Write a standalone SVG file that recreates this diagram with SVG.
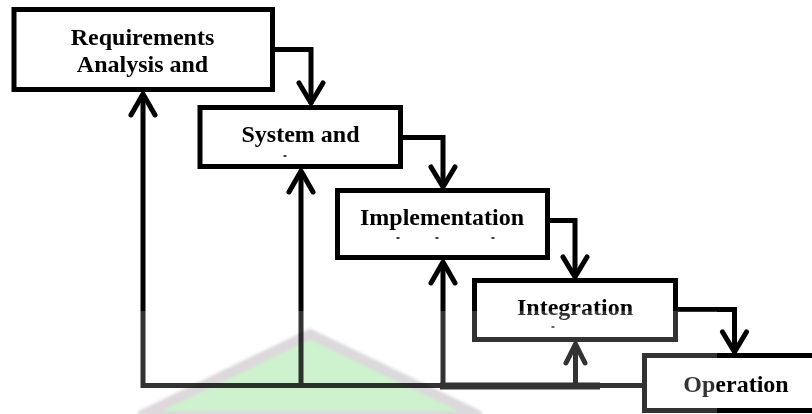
<svg xmlns="http://www.w3.org/2000/svg" width="812" height="414" viewBox="0 0 812 414">
  <style>
    .box { fill: #fff; stroke: #000; stroke-width: 5; }
    .lbl { font-family: "Liberation Serif", "Times New Roman", serif; font-weight: bold; font-size: 24px; fill: #000; text-anchor: middle; }
    .wire { fill: none; stroke: #000; stroke-width: 5; stroke-linejoin: miter; }
    .head { fill: none; stroke: #000; stroke-width: 5; stroke-linecap: round; stroke-linejoin: round; }
    .tick { stroke: #000; stroke-width: 1.5; }
  </style>
  <defs>
    <filter id="soft" x="-10%" y="-10%" width="120%" height="120%">
      <feGaussianBlur stdDeviation="1.5"/>
    </filter>
  </defs>
  <rect width="812" height="414" fill="#fff"/>

  <!-- flow connectors: forward steps and feedback returns -->
  <g id="connectors">
    <!-- forward: each phase to the next -->
    <polyline class="wire" points="272,49.5 311,49.5 311,104"/>
    <polyline class="head" points="299,83 311,103 323,83"/>
    <polyline class="wire" points="400,137.5 443,137.5 443,187"/>
    <polyline class="head" points="431,167 443,187 455,167"/>
    <polyline class="wire" points="547,220.5 575,220.5 575,277"/>
    <polyline class="head" points="563,257 575,277 587,257"/>
    <polyline class="wire" points="675,309.5 734.5,309.5 734.5,352"/>
    <polyline class="head" points="722.5,332 734.5,352 746.5,332"/>

    <!-- feedback: common return line and risers -->
    <polyline class="wire" points="143,94 143,385.5 645,385.5"/>
    <line x1="440" y1="386" x2="600" y2="386" stroke="#000" stroke-width="7"/>
    <line class="wire" x1="301" y1="171" x2="301" y2="385.5"/>
    <line class="wire" x1="443" y1="262" x2="443" y2="385.5"/>
    <line class="wire" x1="575.5" y1="344" x2="575.5" y2="385.5"/>
    <polyline class="head" points="131,115 143,94 155,115"/>
    <polyline class="head" points="289,192 301,171 313,192"/>
    <polyline class="head" points="431,283 443,262 455,283"/>
    <polyline class="head" points="566,363 575.5,344 585,363"/>
  </g>

  <g id="requirements">
    <rect class="box" x="14" y="9.5" width="258.5" height="80"/>
    <text class="lbl" x="142.5" y="45">Requirements</text>
    <text class="lbl" x="142.5" y="72">Analysis and</text>
  </g>

  <g id="system">
    <rect class="box" x="200" y="107.5" width="200.5" height="59"/>
    <text class="lbl" x="300.5" y="141.5">System and</text>
    <line class="tick" x1="283.5" y1="156" x2="286.5" y2="156"/>
  </g>

  <g id="implementation">
    <rect class="box" x="337.5" y="190.5" width="210" height="67"/>
    <text class="lbl" x="442" y="225">Implementation</text>
    <line class="tick" x1="396.5" y1="238" x2="399.5" y2="238"/>
    <line class="tick" x1="435.5" y1="238" x2="438.5" y2="238"/>
    <line class="tick" x1="491.5" y1="238" x2="494.5" y2="238"/>
  </g>

  <g id="integration">
    <rect class="box" x="474.5" y="280.5" width="201" height="59"/>
    <text class="lbl" x="575" y="315">Integration</text>
    <line class="tick" x1="551.5" y1="327" x2="554.5" y2="327"/>
  </g>

  <g id="operation">
    <rect class="box" x="644.5" y="355.5" width="190" height="55"/>
    <text class="lbl" x="736" y="392">Operation</text>
  </g>

  <!-- faint logo mark across the lower part -->
  <g id="logo">
    <rect x="0" y="311" width="717" height="103" fill="#fff" opacity="0.2"/>
    <polygon points="310,334 480,416 140,416" fill="#cdf2cd" stroke="#dcd8dc" stroke-width="10" stroke-linejoin="miter" filter="url(#soft)" style="mix-blend-mode:multiply"/>
  </g>
</svg>
